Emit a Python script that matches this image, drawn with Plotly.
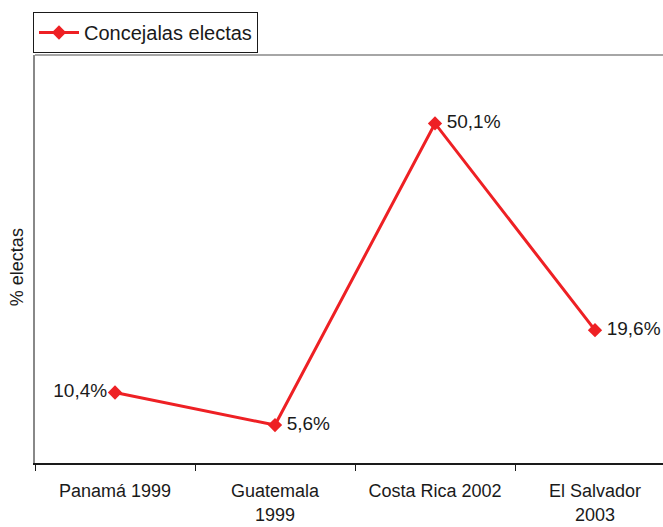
import plotly.graph_objects as go

categories = ["Panamá 1999", "Guatemala<br>1999", "Costa Rica 2002", "El Salvador<br>2003"]
values = [10.4, 5.6, 50.1, 19.6]
series_name = "Concejalas electas"
y_title = "% electas"
text_positions = ["middle left", "middle right", "middle right", "middle right"]
text_templates = ["%{y:.1f}%", "\u2009%{y:.1f}%", "\u2009%{y:.1f}%", "\u2009%{y:.1f}%"]

red = "#EE2024"
font_family = "Liberation Sans, Arial, sans-serif"

fig = go.Figure()
fig.add_trace(go.Scatter(
    x=categories, y=values, name=series_name,
    mode="lines+markers+text",
    line=dict(color=red, width=3),
    marker=dict(symbol="diamond", size=11, color=red),
    texttemplate=text_templates, textposition=text_positions,
    textfont=dict(size=19, color="#1a1a1a", family=font_family),
    cliponaxis=False,
))

fig.update_layout(
    width=663, height=527,
    margin=dict(l=35, r=0, t=55, b=64, autoexpand=False),
    paper_bgcolor="white", plot_bgcolor="white",
    separators=",.",
    font=dict(family=font_family, size=19, color="#1a1a1a"),
    showlegend=True,
    legend=dict(
        xref="container", yref="container",
        x=33/663, y=1-12/527, xanchor="left", yanchor="top",
        bordercolor="#1a1a1a", borderwidth=1, bgcolor="white",
        font=dict(size=20), itemwidth=40,
        tracegroupgap=0, valign="middle",
    ),
    xaxis=dict(
        type="category", range=[-0.5, 3.425], automargin=False, tickangle=0,
        tickson="boundaries", ticks="outside", ticklen=6, tickcolor="#1a1a1a",
        ticklabelstandoff=11,
        showline=True, linecolor="#1a1a1a", linewidth=1.5,
        showgrid=False, zeroline=False,
        tickfont=dict(size=18),
    ),
    yaxis=dict(
        range=[0, 60.2], showticklabels=False, ticks="", automargin=False,
        showline=True, linecolor="#888888", linewidth=1.5,
        showgrid=False, zeroline=False,
    ),
    shapes=[dict(type="line", xref="paper", yref="paper", x0=0, x1=1, y0=1, y1=1,
                 line=dict(color="#888888", width=1.5))],
    annotations=[dict(text=y_title, xref="paper", yref="paper", x=0, y=0.48,
                      xshift=-18, xanchor="center", yanchor="middle",
                      textangle=-90, showarrow=False, font=dict(size=18))],
)

fig.write_html("out.html", config={"displayModeBar": False},
               post_script="document.body.style.margin='0';")
